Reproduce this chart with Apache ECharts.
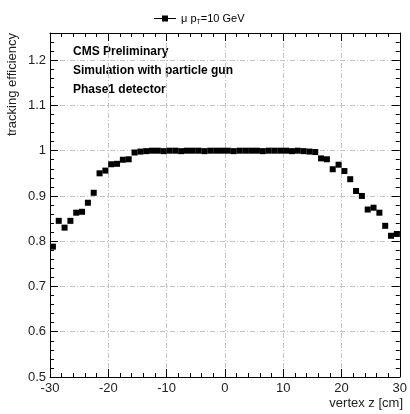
<!DOCTYPE html>
<html><head><meta charset="utf-8">
<script src="https://cdn.jsdelivr.net/npm/echarts@6/dist/echarts.min.js"></script>
<style>html,body{margin:0;padding:0;background:#fff}#c{width:410px;height:414px}</style>
</head><body><div id="c"></div>
<script>
// vertex z bin centres [cm]
const vertexZ = [
 -29.5,-28.5,-27.5,-26.5,-25.5,-24.5,-23.5,-22.5,-21.5,-20.5,
 -19.5,-18.5,-17.5,-16.5,-15.5,-14.5,-13.5,-12.5,-11.5,-10.5,
 -9.5,-8.5,-7.5,-6.5,-5.5,-4.5,-3.5,-2.5,-1.5,-0.5,
 0.5,1.5,2.5,3.5,4.5,5.5,6.5,7.5,8.5,9.5,
 10.5,11.5,12.5,13.5,14.5,15.5,16.5,17.5,18.5,19.5,
 20.5,21.5,22.5,23.5,24.5,25.5,26.5,27.5,28.5,29.5];
// tracking efficiency
const efficiency = [
 0.788,0.845,0.830,0.845,0.863,0.865,0.885,0.907,0.950,0.956,
 0.970,0.971,0.980,0.981,0.996,0.998,0.999,1.000,1.000,0.999,
 1.000,1.000,0.999,1.000,1.000,1.000,0.999,1.000,1.000,1.000,
 1.000,0.999,1.000,1.000,1.000,1.000,0.999,1.000,1.000,1.000,
 1.000,0.999,1.000,0.999,0.998,0.997,0.983,0.981,0.959,0.969,
 0.955,0.937,0.911,0.900,0.870,0.874,0.863,0.834,0.812,0.816];
const seriesName = 'mu10';
const labelsText = ['CMS Preliminary','Simulation with particle gun','Phase1 detector'];
const xTitle = 'vertex z [cm]';
const yTitle = 'tracking efficiency';

const FONT = '"Liberation Sans", Arial, sans-serif';
const chart = echarts.init(document.getElementById('c'));
const tickCommon = {inside:true, length:8, lineStyle:{color:'#000',width:1}};
const minorCommon = {show:true, splitNumber:5, length:4, lineStyle:{color:'#000',width:1}};
const gridLine = {show:true, lineStyle:{color:'#c4c4c4', type:[5,2,1,2], width:1}};
chart.setOption({
  animation:false,
  backgroundColor:'#fff',
  grid:{left:50, right:7, top:33, bottom:37, containLabel:false},
  legend:{
    top:8, left:149, itemWidth:22, itemHeight:8, itemGap:6,
    icon:'path://M0,3.5H8V1H14V3.5H22V4.5H14V7H8V4.5H0Z',
    data:[seriesName],
    formatter:function(){return '{a|μ p}{s|T}{a|=10 GeV}';},
    textStyle:{fontFamily:FONT, fontSize:11, color:'#000',
      rich:{a:{fontFamily:FONT,fontSize:11,color:'#000'},
            s:{fontFamily:FONT,fontSize:7,color:'#000',padding:[7,0,0,0]}}}
  },
  xAxis:[{
    type:'value', min:-30, max:30, interval:10, position:'bottom',
    axisLine:{show:true,onZero:false,lineStyle:{color:'#000',width:1}},
    axisTick:tickCommon, minorTick:minorCommon,
    splitLine:gridLine,
    axisLabel:{fontFamily:FONT,fontSize:13,color:'#222',margin:5}
  },{
    type:'value', min:-30, max:30, interval:10, position:'top',
    axisLine:{show:true,onZero:false,lineStyle:{color:'#000',width:1}},
    axisTick:tickCommon, minorTick:minorCommon,
    splitLine:{show:false}, axisLabel:{show:false}
  }],
  yAxis:[{
    type:'value', min:0.5, max:1.26, interval:0.1, position:'left',
    axisLine:{show:true,onZero:false,lineStyle:{color:'#000',width:1}},
    axisTick:tickCommon, minorTick:minorCommon,
    splitLine:gridLine,
    axisLabel:{fontFamily:FONT,fontSize:13,color:'#222',margin:4,showMaxLabel:false,
      formatter:function(v){var r=Math.round(v*10)/10; if(Math.abs(r-v)>1e-6) return ''; return String(r);}}
  },{
    type:'value', min:0.5, max:1.26, interval:0.1, position:'right',
    axisLine:{show:true,onZero:false,lineStyle:{color:'#000',width:1}},
    axisTick:tickCommon, minorTick:minorCommon,
    splitLine:{show:false}, axisLabel:{show:false}
  }],
  series:[{
    name:seriesName, type:'scatter', xAxisIndex:0, yAxisIndex:0,
    symbol:'rect', symbolSize:6,
    itemStyle:{color:'#000', opacity:1},
    data:vertexZ.map(function(x,i){return [x, efficiency[i]];})
  }],
  graphic:[
    {type:'text', left:73, top:46, style:{text:labelsText[0], font:'bold 12px '+FONT, fill:'#000'}},
    {type:'text', left:73, top:65, style:{text:labelsText[1], font:'bold 12px '+FONT, fill:'#000'}},
    {type:'text', left:73, top:84, style:{text:labelsText[2], font:'bold 12px '+FONT, fill:'#000'}},
    {type:'text', right:7, top:397, style:{text:xTitle, font:'13px '+FONT, fill:'#222'}},
    {type:'text', x:6, y:33, rotation:Math.PI/2, style:{text:yTitle, font:'13px '+FONT, fill:'#222', textAlign:'right', textVerticalAlign:'top'}}
  ]
});
</script></body></html>
